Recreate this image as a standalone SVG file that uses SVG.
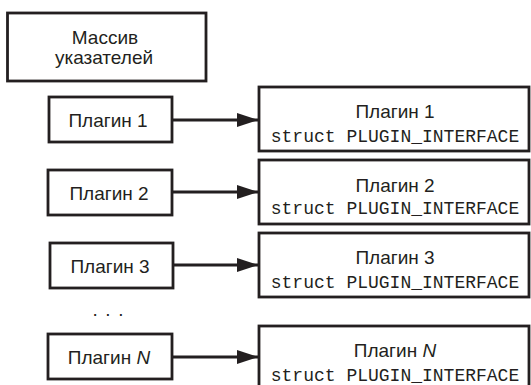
<svg xmlns="http://www.w3.org/2000/svg" width="531" height="385" viewBox="0 0 531 385">
  <style>
    .box { fill: #ffffff; stroke: #231f20; stroke-width: 2.8; }
    .lbl { font-family: "Liberation Sans", Arial, sans-serif; font-size: 19px; fill: #231f20; text-anchor: middle; }
    .mono { font-family: "Liberation Mono", "Courier New", monospace; font-size: 18px; fill: #231f20; text-anchor: middle; }
    .conn { stroke: #231f20; stroke-width: 2.8; fill: none; }
  </style>
  <defs>
    <marker id="arrow" markerUnits="userSpaceOnUse" markerWidth="22" markerHeight="14" refX="21" refY="7" orient="auto">
      <path d="M0,0 L21,7 L0,14 Z" fill="#231f20"/>
    </marker>
  </defs>
  <rect width="531" height="385" fill="#ffffff"/>

  <g id="array">
    <rect class="box" x="7.5" y="13" width="198.5" height="68"/>
    <text class="lbl" x="105" y="44">Массив</text>
    <text class="lbl" x="104" y="64">указателей</text>
  </g>

  <g id="ptr1">
    <rect class="box" x="49" y="97" width="123" height="45"/>
    <text class="lbl" x="108" y="127">Плагин 1</text>
  </g>
  <g id="ptr2">
    <rect class="box" x="48" y="170" width="124" height="45"/>
    <text class="lbl" x="109" y="200">Плагин 2</text>
  </g>
  <g id="ptr3">
    <rect class="box" x="50" y="243" width="123" height="45"/>
    <text class="lbl" x="110" y="273">Плагин 3</text>
  </g>
  <g id="dots">
    <text class="lbl" x="108" y="316" textLength="31" lengthAdjust="spacing">. . .</text>
  </g>
  <g id="ptrN">
    <rect class="box" x="48" y="334" width="124" height="45"/>
    <text class="lbl" x="109" y="364">Плагин <tspan font-style="italic">N</tspan></text>
  </g>

  <g id="iface1">
    <rect class="box" x="259" y="87" width="270" height="64"/>
    <text class="lbl" x="395" y="118">Плагин 1</text>
    <text class="mono" x="395" y="142">struct PLUGIN_INTERFACE</text>
  </g>
  <g id="iface2">
    <rect class="box" x="259" y="160" width="270" height="64"/>
    <text class="lbl" x="395" y="192">Плагин 2</text>
    <text class="mono" x="395" y="214">struct PLUGIN_INTERFACE</text>
  </g>
  <g id="iface3">
    <rect class="box" x="259" y="233" width="270" height="64"/>
    <text class="lbl" x="395" y="264">Плагин 3</text>
    <text class="mono" x="395" y="288">struct PLUGIN_INTERFACE</text>
  </g>
  <g id="ifaceN">
    <rect class="box" x="259" y="326" width="270" height="66"/>
    <text class="lbl" x="395" y="357">Плагин <tspan font-style="italic">N</tspan></text>
    <text class="mono" x="395" y="381">struct PLUGIN_INTERFACE</text>
  </g>

  <g id="connectors">
    <line class="conn" x1="172" y1="120" x2="258" y2="120" marker-end="url(#arrow)"/>
    <line class="conn" x1="172" y1="192" x2="258" y2="192" marker-end="url(#arrow)"/>
    <line class="conn" x1="173" y1="265" x2="258" y2="265" marker-end="url(#arrow)"/>
    <line class="conn" x1="172" y1="357" x2="258" y2="357" marker-end="url(#arrow)"/>
  </g>
</svg>
